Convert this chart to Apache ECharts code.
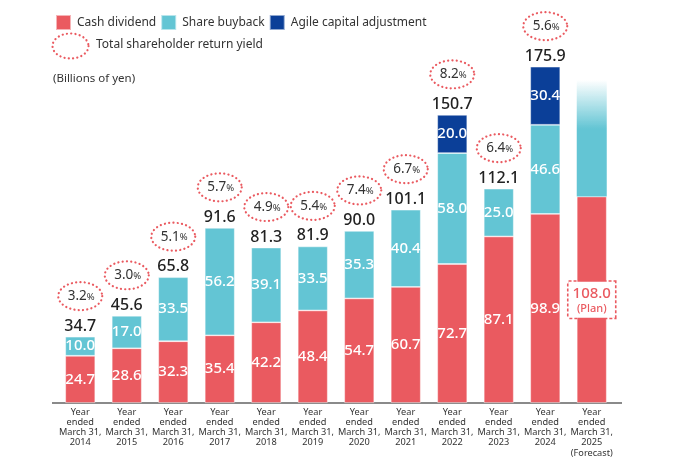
<!DOCTYPE html>
<html>
<head>
<meta charset="utf-8">
<script src="https://cdn.jsdelivr.net/npm/echarts@6/dist/echarts.min.js"></script>
<style>
  html, body { margin: 0; padding: 0; background: #fff; }
  #chart { width: 676px; height: 466px; }
</style>
</head>
<body>
<div id="chart"></div>
<script>
// 年度
var years = ['2014', '2015', '2016', '2017', '2018', '2019', '2020', '2021', '2022', '2023', '2024', '2025'];
// 配当金
var cashDividend = [24.7, 28.6, 32.3, 35.4, 42.2, 48.4, 54.7, 60.7, 72.7, 87.1, 98.9, 108.0];
// 自己株式取得
var shareBuyback = [10.0, 17.0, 33.5, 56.2, 39.1, 33.5, 35.3, 40.4, 58.0, 25.0, 46.6, null];
// 機動的な資本調整
var agileAdjust = [null, null, null, null, null, null, null, null, 20.0, null, 30.4, null];
// 2025予想のフェード部分
var forecastFade = [null, null, null, null, null, null, null, null, null, null, null, 61.0];
// 合計
var totals = [34.7, 45.6, 65.8, 91.6, 81.3, 81.9, 90.0, 101.1, 150.7, 112.1, 175.9, null];
// 総還元利回り(%)
var yields = [3.2, 3.0, 5.1, 5.7, 4.9, 5.4, 7.4, 6.7, 8.2, 6.4, 5.6, null];

var RED = '#ea5a60';
var CYAN = '#63c5d4';
var NAVY = '#0b3f98';
var FONT = '"Noto Sans", sans-serif';

// 楕円の点列
function ellipsePts(cx, cy, rx, ry) {
    var pts = [];
    for (var k = 0; k < 72; k++) {
        var a = k / 72 * Math.PI * 2;
        pts.push([cx + rx * Math.cos(a), cy + ry * Math.sin(a)]);
    }
    return pts;
}

var dotted = { fill: 'none', stroke: RED, lineWidth: 2.2, lineDash: [0.1, 4.2], lineCap: 'round' };

var xLabels = years.map(function (y, i) {
    return 'Year\nended\nMarch 31,\n' + y + (i === years.length - 1 ? '\n(Forecast)' : '');
});

var segLabel = {
    show: true,
    position: 'inside',
    color: '#fff',
    fontFamily: FONT,
    fontSize: 15,
    fontWeight: 500,
    formatter: function (p) { return p.value.toFixed(1); }
};
var segStyle = { borderColor: 'rgba(255,255,255,0.55)', borderWidth: 0.8 };

var cashData = cashDividend.map(function (v, i) {
    if (i === years.length - 1) {
        return {
            value: v,
            label: {
                backgroundColor: '#fff',
                borderColor: RED,
                borderWidth: 1.6,
                borderType: [3, 2],
                padding: [3, 4, 2, 4],
                formatter: function (p) { return '{v|' + p.value.toFixed(1) + '}\n{s|(Plan)}'; },
                rich: {
                    v: { color: RED, fontSize: 15, fontFamily: FONT, lineHeight: 17, align: 'center' },
                    s: { color: RED, fontSize: 11, fontFamily: FONT, lineHeight: 14, align: 'center' }
                }
            }
        };
    }
    return v;
});

var topData = totals.map(function (t, i) {
    return t == null ? null : [i, t, yields[i]];
}).filter(function (d) { return d; });

var chart = echarts.init(document.getElementById('chart'));
var option = {
    animation: false,
    grid: { left: 57, right: 61, top: 20.6, bottom: 63 },
    legend: {
        left: 50,
        top: 9,
        itemWidth: 15,
        itemHeight: 15,
        itemGap: 4,
        icon: 'rect',
        textStyle: { color: '#333', fontSize: 12, fontFamily: FONT, padding: [0, 0, 0, 1] },
        data: ['Cash dividend', 'Share buyback', 'Agile capital adjustment']
    },
    graphic: [
        { type: 'polygon', shape: { points: ellipsePts(70.5, 46, 18, 12.5) }, style: dotted },
        { type: 'text', left: 96, top: 39, style: { text: 'Total shareholder return yield', fill: '#333', font: '12px ' + FONT } },
        { type: 'line', shape: { x1: 52, y1: 403, x2: 622, y2: 403 }, style: { stroke: '#8a8a8a', lineWidth: 2 } },
        { type: 'text', left: 53, top: 73, style: { text: '(Billions of yen)', fill: '#333', font: '11.5px ' + FONT } }
    ],
    xAxis: {
        type: 'category',
        data: xLabels,
        axisTick: { show: false },
        axisLine: { lineStyle: { color: '#8a8a8a', width: 2 } },
        axisLabel: {
            interval: 0,
            margin: 4,
            color: '#333',
            fontFamily: FONT,
            fontSize: 9.2,
            lineHeight: 10.2,
            align: 'center'
        }
    },
    yAxis: { type: 'value', min: 0, max: 200, show: false },
    series: [
        {
            name: 'Cash dividend', type: 'bar', stack: 'all', barWidth: 30,
            itemStyle: Object.assign({ color: RED }, segStyle),
            label: segLabel, data: cashData
        },
        {
            name: 'Share buyback', type: 'bar', stack: 'all', barWidth: 30,
            itemStyle: Object.assign({ color: CYAN }, segStyle),
            label: segLabel, data: shareBuyback
        },
        {
            name: 'Agile capital adjustment', type: 'bar', stack: 'all', barWidth: 30,
            itemStyle: Object.assign({ color: NAVY }, segStyle),
            label: segLabel, data: agileAdjust
        },
        {
            name: 'forecast', type: 'bar', stack: 'all', barWidth: 30,
            itemStyle: {
                color: new echarts.graphic.LinearGradient(0, 0, 0, 1, [
                    { offset: 0, color: 'rgba(99,197,212,0)' },
                    { offset: 0.42, color: CYAN },
                    { offset: 1, color: CYAN }
                ])
            },
            data: forecastFade
        },
        {
            name: 'total', type: 'custom', z: 10,
            data: topData,
            renderItem: function (params, api) {
                var p = api.coord([api.value(0), api.value(1)]);
                var cx = p[0];
                return {
                    type: 'group',
                    children: [
                        {
                            type: 'text',
                            style: {
                                text: api.value(1).toFixed(1), x: cx, y: p[1] - 10.5,
                                align: 'center', verticalAlign: 'middle',
                                fill: '#222', font: '500 16px ' + FONT
                            }
                        },
                        {
                            type: 'polygon',
                            shape: { points: ellipsePts(cx, p[1] - 40.5, 22, 14) },
                            style: dotted
                        },
                        {
                            type: 'text',
                            style: {
                                text: '{n|' + api.value(2).toFixed(1) + '}{p|%}',
                                x: cx + 1, y: p[1] - 40.5,
                                align: 'center', verticalAlign: 'middle',
                                rich: {
                                    n: { fill: '#333', fontSize: 13.5, fontFamily: FONT },
                                    p: { fill: '#333', fontSize: 9.5, fontFamily: FONT, padding: [2, 0, 0, 0] }
                                }
                            }
                        }
                    ]
                };
            }
        }
    ]
};
chart.setOption(option);
</script>
</body>
</html>
